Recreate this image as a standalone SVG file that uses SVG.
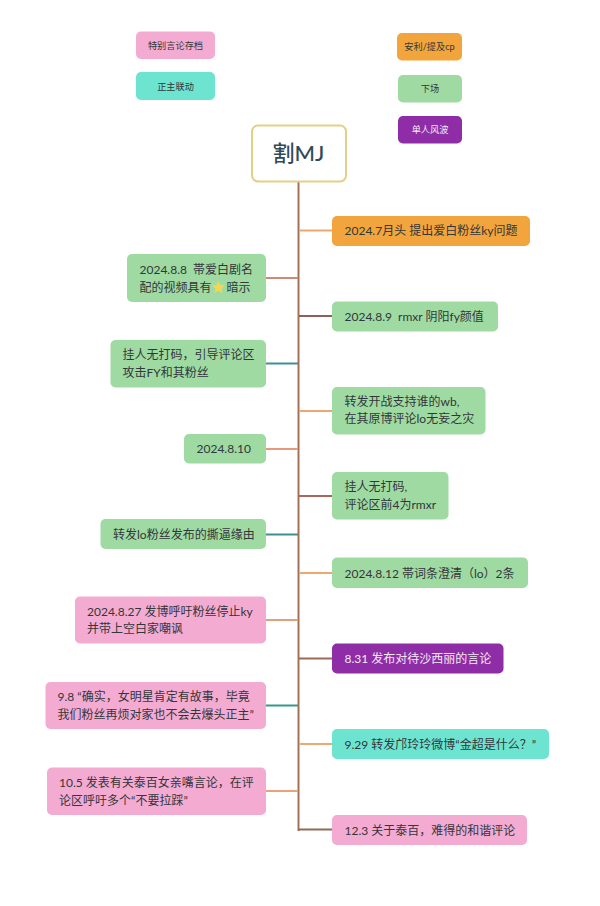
<svg xmlns="http://www.w3.org/2000/svg" width="600" height="906" viewBox="0 0 600 906">
<style>
text{font-family:"Lato","Noto Sans CJK SC",sans-serif;font-size:12px;fill:#33363b;white-space:pre}
text.s{font-size:9.2px}
rect{stroke:none}
.g{fill:#9fdaa2}.p{fill:#f3abd2}.o{fill:#f2a53c}.u{fill:#8e2da6}.t{fill:#6de4d0}
.c line{stroke-width:2;fill:none}
</style>
<rect width="600" height="906" fill="#fff"/>
<g id="connectors" class="c">
<line x1="298.500" y1="182" x2="298.500" y2="831" stroke="#a5705a"/>
<line x1="299" y1="230.500" x2="332" y2="230.500" stroke="#eda76f"/>
<line x1="299" y1="316" x2="332" y2="316" stroke="#8f5f5a"/>
<line x1="299" y1="411" x2="332" y2="411" stroke="#eda76f"/>
<line x1="299" y1="496" x2="332" y2="496" stroke="#a9665f"/>
<line x1="299" y1="573" x2="332" y2="573" stroke="#eda76f"/>
<line x1="299" y1="658.500" x2="332" y2="658.500" stroke="#9c6b58"/>
<line x1="299" y1="744" x2="332" y2="744" stroke="#eda76f"/>
<line x1="298" y1="829.500" x2="332" y2="829.500" stroke="#8f6a58"/>
<line x1="266" y1="278" x2="298" y2="278" stroke="#cf8a72"/>
<line x1="266" y1="363.500" x2="298" y2="363.500" stroke="#3f8f96"/>
<line x1="266" y1="449" x2="298" y2="449" stroke="#e59a78"/>
<line x1="266" y1="534.500" x2="298" y2="534.500" stroke="#3f8f8f"/>
<line x1="266" y1="620" x2="298" y2="620" stroke="#e0a079"/>
<line x1="266" y1="705.500" x2="298" y2="705.500" stroke="#2f9a88"/>
<line x1="266" y1="791" x2="298" y2="791" stroke="#e8a27c"/>
</g>
<g id="legend-pink"><rect class="p" x="136" y="31.500" width="79" height="27.500" rx="5"/><text class="s" x="175.500" y="48.500" text-anchor="middle">特别言论存档</text></g>
<g id="legend-teal"><rect class="t" x="136" y="72" width="79" height="28" rx="5"/><text class="s" x="175.500" y="89.500" text-anchor="middle">正主联动</text></g>
<g id="legend-orange"><rect class="o" x="397" y="33" width="65" height="27.500" rx="5"/><text class="s" x="429.500" y="49.800" text-anchor="middle">安利/提及cp</text></g>
<g id="legend-green"><rect class="g" x="398" y="75" width="64" height="27.500" rx="5"/><text class="s" x="430" y="92" text-anchor="middle">下场</text></g>
<g id="legend-purple"><rect class="u" x="398" y="116" width="64" height="27.500" rx="5"/><text class="s" x="430" y="133" text-anchor="middle" style="fill:#f4e8f6">单人风波</text></g>
<g id="root"><rect x="252" y="125.500" width="94" height="56" rx="6" fill="#fff" style="stroke:#e3cf86;stroke-width:2"/><text x="298.500" y="161" text-anchor="middle" style="font-size:22px;font-weight:500;fill:#2f4a58">割MJ</text></g>
<g id="r1"><rect class="o" x="332" y="216" width="198" height="30" rx="5"/><text x="344.500" y="235">2024.7月头 提出爱白粉丝ky问题</text></g>
<g id="r2"><rect class="g" x="332" y="301.500" width="166" height="30" rx="5"/><text x="344.500" y="321">2024.8.9  rmxr 阴阳fy颜值</text></g>
<g id="r3"><rect class="g" x="332" y="387" width="153.500" height="47.500" rx="5"/><text x="344.500" y="406">转发开战支持谁的wb,</text><text x="344.500" y="423">在其原博评论lo无妄之灾</text></g>
<g id="r4"><rect class="g" x="332" y="472" width="116.500" height="47.500" rx="5"/><text x="344.500" y="491">挂人无打码,</text><text x="344.500" y="509">评论区前4为rmxr</text></g>
<g id="r5"><rect class="g" x="332" y="557.500" width="196" height="30.500" rx="5"/><text x="344.500" y="577.500">2024.8.12 帯词条澄清（lo）2条</text></g>
<g id="r6"><rect class="u" x="332" y="643.500" width="171.500" height="30" rx="5"/><text x="344.500" y="663" style="fill:#f4e8f6">8.31 发布对待沙西丽的言论</text></g>
<g id="r7"><rect class="t" x="332" y="729" width="217" height="30" rx="5"/><text x="344.500" y="749">9.29 转发邝玲玲微博“金超是什么？”</text></g>
<g id="r8"><rect class="p" x="332" y="815" width="195" height="30" rx="5"/><text x="344.500" y="834.500">12.3 关于泰百，难得的和谐评论</text></g>
<g id="l1"><rect class="g" x="127" y="254" width="139" height="48" rx="5"/><text x="139.500" y="274">2024.8.8  帯爱白剧名</text><text x="139.500" y="291.500">配的视频具有</text><polygon points="218.500,281 220.300,285 225,285.500 221.500,288.700 222.500,293 218.500,290.800 214.500,293 215.500,288.700 212,285.500 216.700,285" fill="#f7d64f"/><text x="226.500" y="291.500">暗示</text></g>
<g id="l2"><rect class="g" x="110.500" y="340" width="155.500" height="47.500" rx="5"/><text x="122.500" y="359">挂人无打码，引导评论区</text><text x="122.500" y="377">攻击FY和其粉丝</text></g>
<g id="l3"><rect class="g" x="184" y="434" width="82" height="29.500" rx="5"/><text x="196.500" y="452.500">2024.8.10</text></g>
<g id="l4"><rect class="g" x="100.500" y="519" width="165.500" height="30" rx="5"/><text x="113" y="539">转发lo粉丝发布的撕逼缘由</text></g>
<g id="l5"><rect class="p" x="75" y="596.500" width="191" height="47" rx="5"/><text x="87" y="615.500">2024.8.27 发博呼吁粉丝停止ky</text><text x="87" y="633">并带上空白家嘲讽</text></g>
<g id="l6"><rect class="p" x="45.500" y="682" width="220.500" height="47" rx="5"/><text x="57.500" y="701">9.8 “确实，女明星肯定有故事，毕竟</text><text x="57.500" y="719">我们粉丝再烦对家也不会去爆头正主”</text></g>
<g id="l7"><rect class="p" x="47" y="767.500" width="219" height="47.500" rx="5"/><text x="59" y="787">10.5 发表有关泰百女亲嘴言论，在评</text><text x="59" y="805">论区呼吁多个“不要拉踩”</text></g>
</svg>
